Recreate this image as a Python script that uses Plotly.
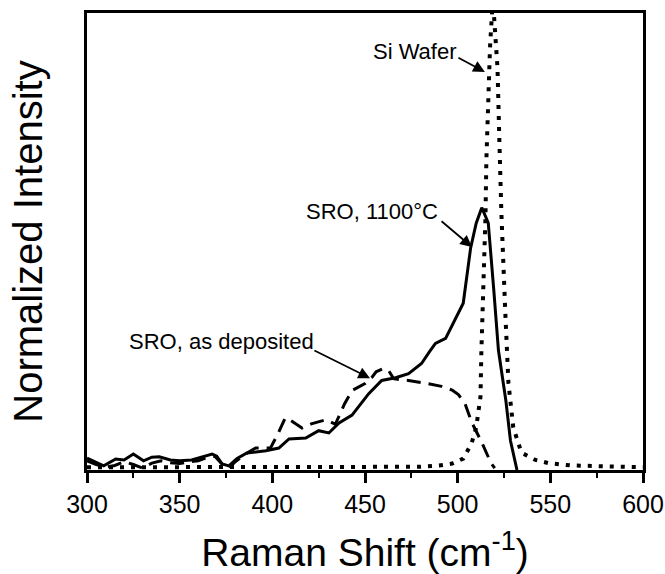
import plotly.graph_objects as go

# Raman shift (cm^-1) and normalized intensity
sro_1100_x = [300, 304, 309, 315.5, 320, 325, 330.5, 335, 339, 345, 350, 356.5, 362, 367.5, 370,
              373, 376.5, 381, 386, 391, 396.5, 403.5, 409, 418, 425, 430.5, 436, 443, 452, 459,
              466.5, 473.5, 480.5, 485, 488, 493.5, 500.5, 503, 507, 510, 513, 516.5, 519.5, 522,
              526, 528.5, 532]
sro_1100_y = [0.026, 0.018, 0.009, 0.024, 0.022, 0.035, 0.02, 0.028, 0.029, 0.022, 0.02, 0.022,
              0.028, 0.035, 0.03, 0.013, 0.009, 0.025, 0.037, 0.04, 0.042, 0.048, 0.068, 0.07,
              0.086, 0.081, 0.103, 0.12, 0.167, 0.196, 0.202, 0.211, 0.233, 0.26, 0.277, 0.288,
              0.343, 0.365, 0.486, 0.54, 0.574, 0.541, 0.393, 0.262, 0.152, 0.064, 0.0]

sro_dep_x = [300, 305, 310, 315, 320, 325, 330, 335, 340, 345, 350, 355, 360, 365, 369, 373, 376,
             380, 385.5, 391, 399, 403, 407, 410, 416, 421, 429, 434, 439, 443, 450, 453.6, 456,
             460, 462.7, 465.4, 470, 473.5, 482.6, 491.3, 497, 500.4, 504, 507.5, 512.8, 518, 520]
sro_dep_y = [0.02, 0.012, 0.006, 0.01, 0.018, 0.012, 0.004, 0.015, 0.02, 0.016, 0.014, 0.018,
             0.02, 0.028, 0.03, 0.012, 0.002, 0.018, 0.035, 0.048, 0.048, 0.079, 0.114, 0.108,
             0.092, 0.101, 0.11, 0.1, 0.145, 0.174, 0.189, 0.202, 0.215, 0.222, 0.218, 0.2, 0.197,
             0.196, 0.19, 0.183, 0.175, 0.165, 0.145, 0.105, 0.062, 0.015, 0.004]

si_x = [300, 350, 400, 450, 480, 490, 497, 503, 507.5, 510, 512.3, 512.8, 514, 515, 515.5, 516.5,
        517.5, 519, 520.5, 521.5, 522.5, 523.6, 525.8, 527.4, 530, 534.4, 542, 549, 561, 580, 600]
si_y = [0.006, 0.006, 0.006, 0.006, 0.007, 0.01, 0.014, 0.025, 0.058, 0.093, 0.16, 0.26, 0.41,
        0.555, 0.68, 0.82, 0.93, 1.03, 0.95, 0.88, 0.72, 0.56, 0.335, 0.19, 0.093, 0.038, 0.022,
        0.015, 0.01, 0.007, 0.006]

x_ticks = [300, 350, 400, 450, 500, 550, 600]

FONT = "Arial, Liberation Sans, Helvetica, sans-serif"

fig = go.Figure()
fig.add_trace(go.Scatter(x=si_x, y=si_y, mode="lines", name="Si Wafer",
                         line=dict(color="black", width=4, dash="4px,7px")))
fig.add_trace(go.Scatter(x=sro_dep_x, y=sro_dep_y, mode="lines", name="SRO, as deposited",
                         line=dict(color="black", width=3, dash="14px,8px")))
fig.add_trace(go.Scatter(x=sro_1100_x, y=sro_1100_y, mode="lines", name="SRO, 1100°C",
                         line=dict(color="black", width=3)))

labels = [
    dict(text="Si Wafer", x=477, y=0.915, tail=(499.6, 0.904), head=(514.7, 0.871)),
    dict(text="SRO, 1100°C", x=453.8, y=0.565, tail=(490.5, 0.547), head=(507.7, 0.488)),
    dict(text="SRO, as deposited", x=372.3, y=0.282, tail=(421.9, 0.263), head=(452.7, 0.201)),
]
for lb in labels:
    fig.add_annotation(x=lb["x"], y=lb["y"], xref="x", yref="y", text=lb["text"],
                       showarrow=False, font=dict(family=FONT, size=22, color="black"),
                       xanchor="center", yanchor="middle")
    fig.add_annotation(x=lb["head"][0], y=lb["head"][1], ax=lb["tail"][0], ay=lb["tail"][1],
                       xref="x", yref="y", axref="x", ayref="y", text="", showarrow=True,
                       arrowhead=2, arrowsize=1.3, arrowwidth=1.8, arrowcolor="black")

fig.update_layout(
    width=665, height=574,
    margin=dict(l=87, r=22, t=13, b=104, autoexpand=False),
    paper_bgcolor="white", plot_bgcolor="white",
    showlegend=False,
    font=dict(family=FONT, color="black"),
)
fig.update_xaxes(
    range=[300, 600], tickvals=x_ticks, ticktext=[str(v) for v in x_ticks],
    ticks="outside", ticklen=10, tickwidth=2.5, tickcolor="black",
    minor=dict(ticks="outside", ticklen=5, tickwidth=2, tickcolor="black", dtick=25, tick0=300),
    showline=True, linewidth=2.5, linecolor="black", mirror=True,
    showgrid=False, zeroline=False, automargin=False,
    tickfont=dict(family=FONT, size=25, color="black"),
    title=dict(text="Raman Shift (cm<sup>-1</sup>)", font=dict(family=FONT, size=39, color="black"),
               standoff=28),
)
fig.update_yaxes(
    range=[0, 1], showticklabels=False, ticks="",
    showline=True, linewidth=2.5, linecolor="black", mirror=True,
    showgrid=False, zeroline=False, automargin=False,
    title=dict(text="Normalized Intensity", font=dict(family=FONT, size=40, color="black"),
               standoff=30),
)

fig.write_html("out.html")
